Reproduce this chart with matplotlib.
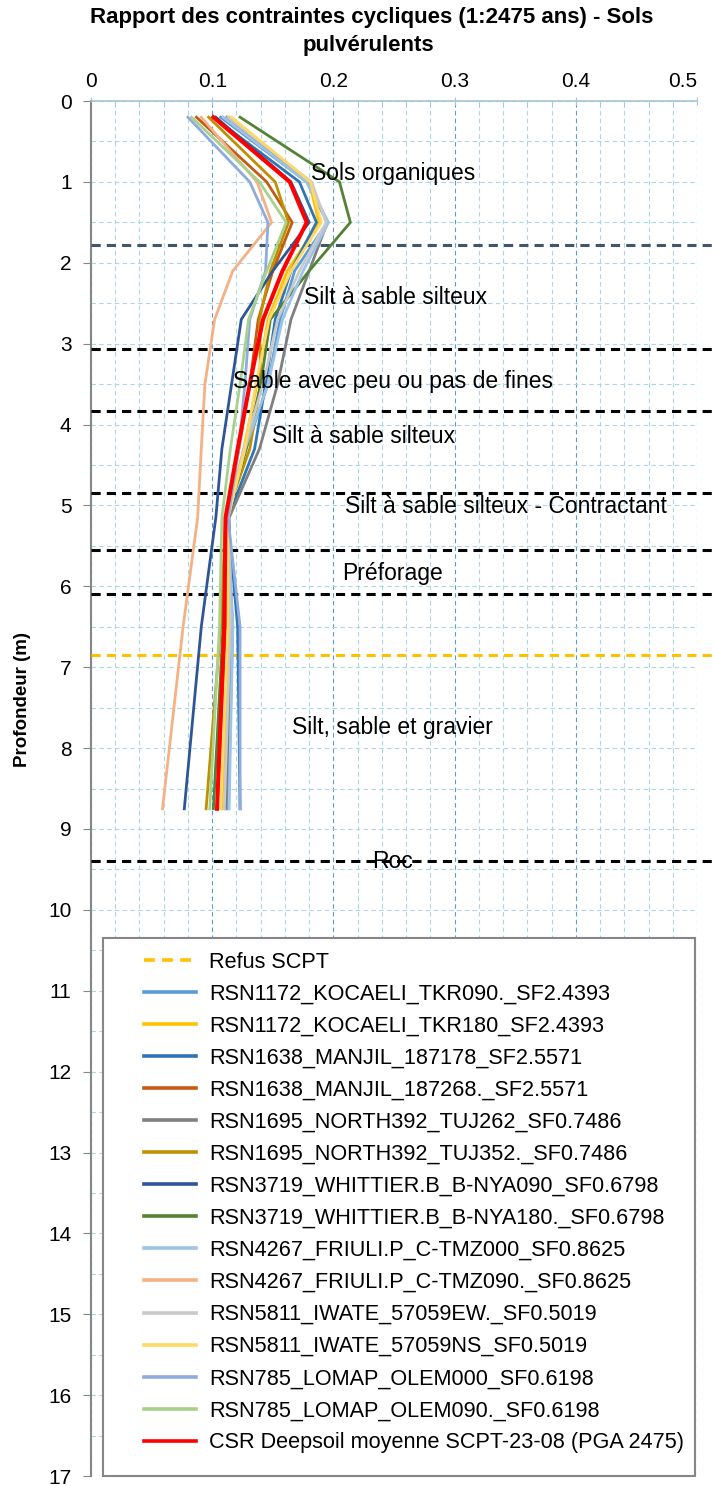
import matplotlib
matplotlib.use("Agg")
import matplotlib.pyplot as plt
from matplotlib.patches import Rectangle
from matplotlib.ticker import MultipleLocator

plt.rcParams['font.family'] = ['Liberation Sans', 'DejaVu Sans']

# profondeurs des points (m)
depth = [0.2, 1.0, 1.5, 2.1, 2.7, 3.5, 4.3, 5.15, 6.5, 8.75]

series_names = [
    "RSN1172_KOCAELI_TKR090._SF2.4393",
    "RSN1172_KOCAELI_TKR180_SF2.4393",
    "RSN1638_MANJIL_187178_SF2.5571",
    "RSN1638_MANJIL_187268._SF2.5571",
    "RSN1695_NORTH392_TUJ262_SF0.7486",
    "RSN1695_NORTH392_TUJ352._SF0.7486",
    "RSN3719_WHITTIER.B_B-NYA090_SF0.6798",
    "RSN3719_WHITTIER.B_B-NYA180._SF0.6798",
    "RSN4267_FRIULI.P_C-TMZ000_SF0.8625",
    "RSN4267_FRIULI.P_C-TMZ090._SF0.8625",
    "RSN5811_IWATE_57059EW._SF0.5019",
    "RSN5811_IWATE_57059NS_SF0.5019",
    "RSN785_LOMAP_OLEM000_SF0.6198",
    "RSN785_LOMAP_OLEM090._SF0.6198",
    "CSR Deepsoil moyenne SCPT-23-08 (PGA 2475)",
]

series_colors = ["#5B9BD5", "#FFC000", "#2E75B6", "#C55A11", "#7F7F7F",
                 "#BF9000", "#2F5597", "#548235", "#9DC3E6", "#F4B183",
                 "#C9C9C9", "#FFD966", "#8FAADC", "#A9D18E", "#FF0000"]

csr_values = [
    [0.107, 0.178, 0.195, 0.168, 0.156, 0.146, 0.128, 0.112, 0.117, 0.113],
    [0.114, 0.180, 0.188, 0.162, 0.146, 0.137, 0.126, 0.112, 0.114, 0.108],
    [0.101, 0.172, 0.186, 0.165, 0.152, 0.144, 0.135, 0.113, 0.121, 0.123],
    [0.087, 0.145, 0.166, 0.150, 0.138, 0.131, 0.122, 0.111, 0.111, 0.104],
    [0.112, 0.180, 0.195, 0.180, 0.165, 0.154, 0.139, 0.114, 0.116, 0.111],
    [0.097, 0.152, 0.163, 0.148, 0.139, 0.140, 0.131, 0.111, 0.107, 0.095],
    [0.103, 0.165, 0.180, 0.150, 0.124, 0.116, 0.108, 0.103, 0.091, 0.077],
    [0.123, 0.205, 0.214, 0.180, 0.148, 0.140, 0.128, 0.112, 0.109, 0.101],
    [0.109, 0.178, 0.196, 0.175, 0.158, 0.146, 0.127, 0.113, 0.117, 0.114],
    [0.091, 0.137, 0.149, 0.117, 0.102, 0.094, 0.091, 0.088, 0.076, 0.059],
    [0.113, 0.182, 0.194, 0.172, 0.154, 0.142, 0.126, 0.113, 0.115, 0.110],
    [0.116, 0.181, 0.190, 0.165, 0.147, 0.136, 0.127, 0.113, 0.113, 0.107],
    [0.080, 0.131, 0.146, 0.144, 0.131, 0.127, 0.122, 0.113, 0.123, 0.123],
    [0.083, 0.139, 0.161, 0.145, 0.130, 0.123, 0.115, 0.108, 0.106, 0.098],
    [0.101, 0.164, 0.178, 0.158, 0.142, 0.131, 0.121, 0.111, 0.110, 0.104],
]

# limites de couches (m)
layer_depths = [1.78, 3.07, 3.83, 4.85, 5.55, 6.1, 9.4]
layer_colors = ["#44546A", "black", "black", "black", "black", "black", "black"]
refus_depth = 6.85

layer_labels = ["Sols organiques", "Silt à sable silteux", "Sable avec peu ou pas de fines",
                "Silt à sable silteux", "Silt à sable silteux - Contractant", "Préforage",
                "Silt, sable et gravier", "Roc"]
label_x = [0.249, 0.251, 0.249, 0.225, 0.342, 0.249, 0.249, 0.249]
label_y = [0.9, 2.43, 3.47, 4.15, 5.01, 5.84, 7.75, 9.4]

fig = plt.figure(figsize=(7.13, 14.86), dpi=100)
ax = fig.add_axes([0.1276, 0.0067, 0.85, 0.9253])

ax.set_xlim(0, 0.5)
ax.set_ylim(17, 0)
ax.xaxis.tick_top()
ax.xaxis.set_major_locator(MultipleLocator(0.1))
ax.xaxis.set_minor_locator(MultipleLocator(0.02))
ax.yaxis.set_major_locator(MultipleLocator(1))
ax.yaxis.set_minor_locator(MultipleLocator(0.5))
ax.set_xticks([0, 0.1, 0.2, 0.3, 0.4, 0.5])
ax.set_xticklabels(["0", "0.1", "0.2", "0.3", "0.4", "0.5"])

ax.grid(True, axis="x", which="major", color="#5B9BD5", linestyle=(0, (4, 3)), linewidth=0.8)
ax.grid(True, axis="x", which="minor", color="#A9D7E6", linestyle=(0, (4, 3)), linewidth=0.8)
ax.grid(True, axis="y", which="both", color="#A9D7E6", linestyle=(0, (4, 3)), linewidth=0.8)
ax.set_axisbelow(True)

for s in ["right", "bottom"]:
    ax.spines[s].set_visible(False)
ax.spines["left"].set_color("#868686")
ax.spines["left"].set_linewidth(1.5)
ax.spines["top"].set_color("#A6C4D4")
ax.spines["top"].set_linewidth(1.2)
ax.tick_params(axis="x", which="major", direction="inout", length=6, color="#A6C4D4",
               labelsize=15, pad=4)
ax.tick_params(axis="x", which="minor", direction="in", length=4, color="#A6C4D4")
ax.tick_params(axis="y", which="major", direction="out", length=6, color="#868686",
               labelsize=15, pad=8)
ax.tick_params(axis="y", which="minor", length=0)
ax.get_xticklabels()[-1].set_horizontalalignment("right")

for d, c in zip(layer_depths, layer_colors):
    ax.plot([0, 0.513], [d, d], color=c, linestyle=(0, (3, 2)), linewidth=2.2,
            clip_on=False, zorder=3)
refus, = ax.plot([0, 0.513], [refus_depth, refus_depth], color="#FFC000",
                 linestyle=(0, (3, 2)), linewidth=2.2, clip_on=False, zorder=3,
                 label="Refus SCPT")

handles = [refus]
for name, col, vals in zip(series_names, series_colors, csr_values):
    lw = 2.9 if col == "#FF0000" else 2.0
    h, = ax.plot(vals, depth, color=col, linewidth=lw, label=name, zorder=4,
                 solid_joinstyle="miter")
    handles.append(h)

for txt, x, y in zip(layer_labels, label_x, label_y):
    ax.text(x, y, txt, fontsize=16.5, ha="center", va="center", zorder=5)

# cadre de la légende
ax.add_patch(Rectangle((0.02, 0.0), 0.977, 0.391, transform=ax.transAxes,
                       facecolor="white", edgecolor="#868686", linewidth=1.5,
                       zorder=6, clip_on=False))
leg = ax.legend(handles=handles, loc="center left", bbox_to_anchor=(0.0693, 0.199),
                frameon=False, fontsize=15.6, handlelength=2.4, handletextpad=0.6,
                labelspacing=0.51, borderpad=0)
leg.set_zorder(7)
for line in leg.get_lines():
    line.set_linewidth(2.6)

fig.text(0.522, 1 - 18 / 1486, "Rapport des contraintes cycliques (1:2475 ans) - Sols",
         ha="center", va="center", fontsize=16, fontweight="bold")
fig.text(0.516, 1 - 45 / 1486, "pulvérulents",
         ha="center", va="center", fontsize=16, fontweight="bold")
fig.text(0.031, 0.529, "Profondeur (m)", rotation=90, ha="center", va="center",
         fontsize=13.5, fontweight="bold")

fig.savefig("out.png", dpi=100)
